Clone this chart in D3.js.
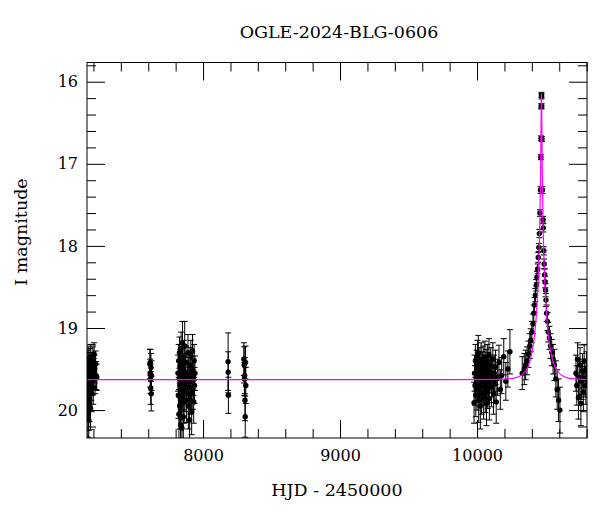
<!DOCTYPE html>
<html><head><meta charset="utf-8">
<script src="https://cdn.jsdelivr.net/npm/d3@7"></script>
<style>
html,body{margin:0;padding:0;background:#fff;}
svg{display:block;}
text{font-family:"DejaVu Serif",serif;fill:#000;}
</style></head>
<body><svg id="c" width="600" height="512"></svg>
<script>
// ---- data (HJD-2450000, I mag, error) ----
const title = "OGLE-2024-BLG-0606";
const xLabel = "HJD - 2450000";
const yLabel = "I magnitude";
const xMajorTicks = [8000, 9000, 10000];
const yMajorTicks = [16, 17, 18, 19, 20];

const season2015 = [[7157,19.62,0.20],[7158,19.85,0.25],[7159,19.45,0.18],[7160,20.05,0.28],[7161,19.70,0.22],[7162,19.38,0.15],[7163,19.95,0.30],[7164,19.55,0.20],[7165,19.78,0.22],[7166,20.12,0.25],[7167,19.48,0.18],[7168,19.66,0.20],[7170,19.90,0.24],[7171,19.52,0.16],[7173,19.74,0.21],[7175,19.42,0.17],[7177,19.60,0.19],[7179,19.98,0.26],[7181,19.35,0.15],[7183,19.68,0.20],[7185,19.57,0.18],[7188,19.80,0.22],[7190,19.46,0.16],[7193,19.63,0.19],[7196,19.40,0.17],[7199,19.72,0.21],[7202,19.55,0.18],[7205,19.32,0.14],[7208,19.50,0.17],[7212,19.62,0.18],[7216,19.44,0.16],[7220,19.58,0.17],[7224,19.60,0.16]];
const season2016 = [[7612,19.44,0.18],[7614,19.55,0.17],[7615,19.42,0.16],[7617,19.62,0.18],[7618,19.73,0.20],[7620,19.48,0.17],[7622,19.80,0.21],[7624,19.58,0.18]];
const season2017 = [[7818,19.55,0.22],[7820,19.82,0.28],[7822,19.40,0.20],[7824,20.05,0.30],[7826,19.62,0.22],[7828,19.30,0.19],[7830,19.95,0.28],[7832,19.70,0.24],[7834,19.48,0.22],[7836,20.18,0.32],[7838,19.58,0.23],[7840,19.25,0.20],[7842,19.85,0.27],[7844,19.65,0.24],[7846,20.22,0.33],[7848,19.45,0.21],[7850,19.18,0.26],[7852,19.75,0.25],[7854,19.60,0.22],[7856,20.08,0.30],[7858,19.52,0.21],[7860,19.35,0.20],[7862,19.90,0.26],[7864,19.68,0.23],[7866,19.22,0.30],[7868,19.78,0.24],[7870,19.55,0.21],[7875,19.42,0.20],[7880,19.88,0.27],[7885,19.62,0.22],[7890,19.30,0.22],[7893,19.95,0.28],[7896,19.58,0.22],[7899,19.72,0.24],[7902,20.12,0.30],[7905,19.45,0.21],[7908,19.80,0.25],[7911,19.35,0.20],[7914,19.65,0.22],[7917,20.02,0.28],[7920,19.52,0.21],[7923,19.28,0.20],[7926,19.75,0.24],[7929,19.60,0.22],[7932,19.90,0.26],[7935,19.40,0.20],[7938,19.70,0.22],[7941,19.55,0.21]];
const season2018a = [[8183,19.41,0.35],[8184,19.54,0.25],[8185,19.82,0.22]];
const season2018b = [[8298,19.38,0.20],[8300,19.45,0.22],[8302,19.62,0.20],[8304,19.58,0.22],[8306,19.88,0.25],[8308,20.08,0.25],[8310,19.42,0.20],[8312,19.70,0.22]];
const season2023 = [[9978,19.91,0.25],[9982,19.55,0.22],[9985,19.70,0.24],[9988,19.40,0.20],[9991,19.82,0.26],[9994,19.60,0.22],[9997,19.48,0.21],[10000,19.75,0.25],[10003,19.35,0.20],[10006,19.65,0.23],[10009,19.31,0.22],[10012,19.88,0.27],[10015,19.52,0.22],[10018,19.72,0.24],[10021,19.45,0.21],[10024,19.95,0.28],[10027,19.58,0.22],[10030,19.38,0.20],[10033,19.80,0.25],[10036,19.62,0.23],[10039,19.50,0.21],[10042,19.70,0.24],[10045,19.42,0.20],[10048,19.85,0.26],[10051,19.55,0.22],[10054,19.66,0.23],[10057,19.36,0.20],[10060,19.78,0.25],[10063,19.60,0.22],[10066,19.47,0.21],[10069,19.92,0.27],[10072,19.58,0.22],[10075,19.40,0.20],[10078,19.74,0.24],[10081,19.52,0.22],[10084,19.68,0.23],[10087,19.33,0.20],[10090,19.86,0.26],[10095,19.57,0.22],[10100,19.45,0.21],[10105,19.72,0.24],[10110,19.62,0.22],[10115,19.38,0.20],[10120,19.80,0.25],[10125,19.55,0.22],[10130,19.68,0.23],[10135,19.48,0.21],[10140,19.90,0.26],[10150,19.60,0.22],[10160,19.42,0.21],[10170,19.75,0.24],[10180,19.58,0.22],[10195,19.35,0.22],[10210,19.65,0.23],[10225,19.50,0.22],[10240,19.29,0.27]];
const season2024 = [[10330,19.55,0.20],[10345,19.50,0.19],[10355,19.45,0.18],[10365,19.40,0.17],[10375,19.32,0.16],[10385,19.22,0.15],[10392,19.15,0.14],[10400,19.05,0.13],[10408,18.95,0.12],[10414,18.82,0.10],[10420,18.72,0.09],[10426,18.60,0.08],[10432,18.48,0.07],[10437,18.38,0.07],[10442,18.28,0.06],[10447,18.14,0.06],[10451,18.02,0.05],[10455,17.85,0.05],[10459,17.60,0.04],[10463,17.32,0.04],[10466,16.92,0.03],[10467,16.69,0.03],[10468,16.30,0.03],[10470,16.16,0.03],[10471,16.18,0.03],[10472,16.30,0.03],[10474,16.70,0.03],[10477,17.32,0.04],[10482,17.68,0.04],[10484,17.78,0.05],[10487,18.06,0.05],[10490,18.22,0.06],[10494,18.35,0.07],[10497,18.44,0.07],[10500,18.54,0.08],[10503,18.66,0.08],[10508,18.82,0.10],[10514,18.92,0.11],[10520,19.05,0.12],[10528,19.12,0.14],[10536,19.22,0.15],[10545,19.30,0.16],[10555,19.38,0.18],[10565,19.45,0.19],[10575,19.62,0.22],[10585,19.75,0.24],[10595,19.88,0.26],[10605,20.00,0.28]];
const season2025 = [[10722,19.55,0.22],[10728,19.70,0.24],[10734,19.38,0.20],[10740,19.85,0.26],[10746,19.60,0.22],[10752,19.45,0.21],[10758,19.92,0.27],[10764,19.65,0.22],[10770,19.52,0.21],[10776,19.78,0.24],[10782,19.40,0.20],[10788,19.62,0.22],[10794,19.70,0.23],[10799,19.50,0.21]];

// model light curve
const modelT   = [7150, 9800, 10170, 10220, 10270, 10320, 10350, 10370, 10390, 10410, 10420, 10430, 10440, 10445, 10450, 10455, 10460, 10463, 10465, 10467, 10468, 10469, 10470, 10471, 10472, 10473, 10475, 10477, 10480, 10485, 10490, 10495, 10500, 10510, 10520, 10530, 10550, 10570, 10590, 10620, 10670, 10720, 10770, 10810];
const modelMag = [19.63, 19.63, 19.625, 19.62, 19.61, 19.58, 19.53, 19.48, 19.38, 19.21, 19.08, 18.90, 18.64, 18.47, 18.25, 17.96, 17.55, 17.21, 16.91, 16.55, 16.36, 16.20, 16.135, 16.20, 16.36, 16.55, 16.91, 17.21, 17.55, 17.96, 18.25, 18.47, 18.64, 18.90, 19.08, 19.21, 19.38, 19.48, 19.53, 19.58, 19.61, 19.62, 19.625, 19.63];

const obs = [].concat(season2015, season2016, season2017, season2018a, season2018b, season2023, season2024, season2025);

// ---- layout ----
const L = 87, R = 587, T = 62.5, B = 438;
const svg = d3.select("#c");
const x = d3.scaleLinear().domain([7153, 10802.6]).range([L, R]);
const y = d3.scaleLinear().domain([15.766, 20.34]).range([T, B]);

const xMinor = d3.range(7200, 10801, 200).filter(v => !xMajorTicks.includes(v));
const yMinor = d3.range(15.8, 20.35, 0.2).map(v => +v.toFixed(1)).filter(v => !yMajorTicks.includes(v));

svg.append("defs").append("clipPath").attr("id","clip")
  .append("rect").attr("x",L).attr("y",T).attr("width",R-L).attr("height",B-T);

const plot = svg.append("g").attr("clip-path","url(#clip)");

// error bars
const eb = plot.append("g").attr("stroke","#000").attr("stroke-width",1).attr("fill","none");
eb.selectAll("path").data(obs).join("path")
  .attr("d", d => {
    const cx = x(d[0]), y1 = y(d[1]-d[2]), y2 = y(d[1]+d[2]);
    return `M${cx},${y1}V${y2}M${cx-3},${y1}H${cx+3}M${cx-3},${y2}H${cx+3}`;
  });
plot.append("g").selectAll("circle").data(obs).join("circle")
  .attr("cx", d=>x(d[0])).attr("cy", d=>y(d[1])).attr("r",2.7).attr("fill","#000");

// model line
const modelPts = modelT.map((t,i)=>[t, modelMag[i]]);
plot.append("path").datum(modelPts)
  .attr("fill","none").attr("stroke","#ff00ff").attr("stroke-width",1.2)
  .attr("d", d3.line().x(d=>x(d[0])).y(d=>y(d[1])).curve(d3.curveMonotoneX));

// axes
function ax(gen, tr, vals, size, labels, pad){
  const g = svg.append("g").attr("transform", tr)
    .call(gen.tickValues(vals).tickSize(size).tickPadding(pad||0)
      .tickFormat(labels ? d3.format("d") : () => ""));
  g.select(".domain").remove();
  g.selectAll("line").attr("stroke","#000");
  g.selectAll("text").attr("font-size",16).attr("font-family","DejaVu Serif, serif");
  return g;
}
ax(d3.axisBottom(x), `translate(0,${B})`, xMajorTicks, -18, true, 12);
ax(d3.axisBottom(x), `translate(0,${B})`, xMinor, -9, false);
ax(d3.axisTop(x), `translate(0,${T})`, xMajorTicks, -18, false);
ax(d3.axisTop(x), `translate(0,${T})`, xMinor, -9, false);
ax(d3.axisLeft(y), `translate(${L},0)`, yMajorTicks, -18, true, 9);
ax(d3.axisLeft(y), `translate(${L},0)`, yMinor, -9, false);
ax(d3.axisRight(y), `translate(${R},0)`, yMajorTicks, -18, false);
ax(d3.axisRight(y), `translate(${R},0)`, yMinor, -9, false);

svg.append("rect").attr("x",L).attr("y",T).attr("width",R-L).attr("height",B-T)
  .attr("fill","none").attr("stroke","#000").attr("stroke-width",1);

svg.append("text").attr("x",(L+R)/2+2).attr("y",38).attr("text-anchor","middle")
  .attr("font-size",17.5).text(title);
svg.append("text").attr("x",(L+R)/2).attr("y",496).attr("text-anchor","middle")
  .attr("font-size",17.5).text(xLabel);
svg.append("text").attr("transform","translate(27,232) rotate(-90)").attr("text-anchor","middle")
  .attr("font-size",17.5).text(yLabel);
</script></body></html>
